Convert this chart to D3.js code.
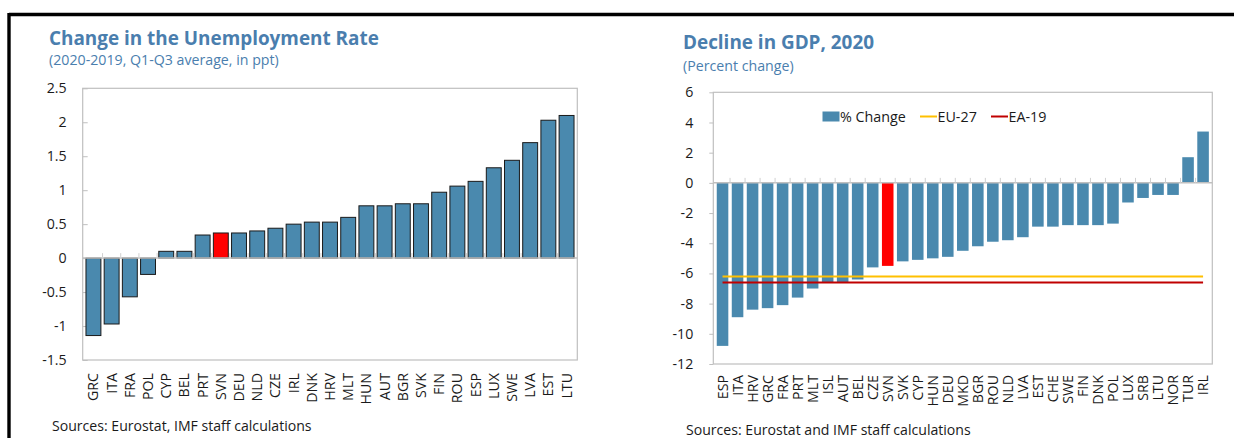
<!DOCTYPE html>
<html>
<head>
<meta charset="utf-8">
<script src="https://cdn.jsdelivr.net/npm/d3@7"></script>
<style>
  body { margin: 0; background: #fff; }
  svg { display: block; font-family: "Open Sans", sans-serif; }
</style>
</head>
<body>
<svg id="canvas" width="1234" height="438"></svg>
<script>
// left panel: change in unemployment rate
var unempCountries = ['GRC','ITA','FRA','POL','CYP','BEL','PRT','SVN','DEU','NLD','CZE','IRL','DNK','HRV',
                      'MLT','HUN','AUT','BGR','SVK','FIN','ROU','ESP','LUX','SWE','LVA','EST','LTU'];
var unempValues = [-1.14,-0.97,-0.57,-0.24,0.10,0.10,0.34,0.37,0.37,0.40,0.44,0.50,0.53,0.53,
                   0.60,0.77,0.77,0.80,0.80,0.97,1.06,1.13,1.33,1.44,1.70,2.03,2.10];
var unempTicks = [2.5,2,1.5,1,0.5,0,-0.5,-1,-1.5];

// right panel: GDP decline
var gdpCountries = ['ESP','ITA','HRV','GRC','FRA','PRT','MLT','ISL','AUT','BEL','CZE','SVN','SVK','CYP',
                    'HUN','DEU','MKD','BGR','ROU','NLD','LVA','EST','CHE','SWE','FIN','DNK','POL','LUX',
                    'SRB','LTU','NOR','TUR','IRL'];
var gdpValues = [-10.8,-8.9,-8.4,-8.3,-8.1,-7.6,-7.0,-6.6,-6.6,-6.4,-5.6,-5.5,-5.2,-5.1,
                 -5.0,-4.9,-4.5,-4.2,-3.9,-3.8,-3.6,-2.9,-2.9,-2.8,-2.8,-2.8,-2.7,-1.3,
                 -1.0,-0.8,-0.8,1.7,3.4];
var gdpTicks = [6,4,2,0,-2,-4,-6,-8,-10,-12];
var eu27 = -6.2;
var ea19 = -6.6;
var legendNames = ['% Change','EU-27','EA-19'];

var highlight = 'SVN';
var barColor = '#4a89ae';
var titleColor = '#4a7eae';

var svg = d3.select('#canvas');

// frame lines
svg.append('line').attr('x1', 9).attr('x2', 1234).attr('y1', 14.5).attr('y2', 14.5)
  .attr('stroke', '#000').attr('stroke-width', 3.3);
svg.append('line').attr('x1', 9).attr('x2', 9).attr('y1', 13).attr('y2', 438)
  .attr('stroke', '#000').attr('stroke-width', 3.4);

function drawPanel(opt) {
  var g = svg.append('g');
  var x = d3.scaleBand().domain(opt.cats).range([opt.left, opt.right]).padding(opt.pad);
  var y = d3.scaleLinear().domain(opt.domain).range([opt.bottom, opt.top]);

  g.append('text').attr('x', opt.titleX).attr('y', opt.titleY)
    .attr('fill', titleColor).attr('font-size', 18.9).attr('font-weight', 700)
    .text(opt.title);
  g.append('text').attr('x', opt.titleX).attr('y', opt.subY)
    .attr('fill', titleColor).attr('font-size', 14.2).text(opt.subtitle);

  // plot border
  g.append('rect').attr('x', opt.left).attr('y', opt.top)
    .attr('width', opt.right - opt.left).attr('height', opt.bottom - opt.top)
    .attr('fill', 'none').attr('stroke', '#bfbfbf').attr('stroke-width', 1.2);

  // y axis
  var ya = g.append('g').attr('transform', 'translate(' + opt.left + ',0)')
    .call(d3.axisLeft(y).tickValues(opt.ticks).tickSize(opt.yTickSize).tickPadding(16)
      .tickFormat(d => String(d)));
  ya.select('.domain').remove();
  ya.selectAll('.tick line').attr('stroke', '#bfbfbf');
  ya.selectAll('text').attr('font-size', 14.2).attr('fill', '#1a1a1a')
    .attr('font-family', '"Open Sans", sans-serif');

  // bars
  g.selectAll('.bar').data(opt.cats).join('rect')
    .attr('class', 'bar')
    .attr('x', d => x(d))
    .attr('width', x.bandwidth())
    .attr('y', (d, i) => y(Math.max(0, opt.vals[i])))
    .attr('height', (d, i) => Math.abs(y(opt.vals[i]) - y(0)))
    .attr('fill', d => d == highlight ? '#ff0000' : barColor)
    .attr('stroke', opt.barStroke)
    .attr('stroke-width', opt.barStroke == 'none' ? 0 : 1);

  // zero line with boundary ticks
  var y0 = y(0);
  g.append('line').attr('x1', opt.left).attr('x2', opt.right).attr('y1', y0).attr('y2', y0)
    .attr('stroke', '#bfbfbf').attr('stroke-width', 1.5);
  g.selectAll('.ztick').data(opt.cats.slice(1)).join('line')
    .attr('class', 'ztick')
    .attr('x1', d => x(d) - x.step() * x.paddingInner() / 2)
    .attr('x2', d => x(d) - x.step() * x.paddingInner() / 2)
    .attr('y1', y0).attr('y2', y0 - 5)
    .attr('stroke', '#d0d0d0').attr('stroke-width', 1);

  // x labels
  g.selectAll('.xl').data(opt.cats).join('text')
    .attr('class', 'xl')
    .attr('transform', d => 'translate(' + (x(d) + x.bandwidth() / 2 + 5) + ',' + opt.labelY + ') rotate(-90)')
    .attr('text-anchor', 'end')
    .attr('font-size', 14.2).attr('fill', '#1a1a1a')
    .text(d => d);

  g.append('text').attr('x', opt.srcX).attr('y', opt.srcY)
    .attr('font-size', 14.1).attr('fill', '#1a1a1a').text(opt.source);

  return {x: x, y: y, g: g};
}

drawPanel({
  cats: unempCountries, vals: unempValues, ticks: unempTicks, domain: [-1.5, 2.5],
  left: 82.7, right: 577.3, top: 88.3, bottom: 360, pad: 0.18,
  yTickSize: -5, barStroke: '#1a1a1a',
  title: 'Change in the Unemployment Rate', subtitle: '(2020-2019, Q1-Q3 average, in ppt)',
  titleX: 49, titleY: 44.5, subY: 65, labelY: 373,
  source: 'Sources: Eurostat, IMF staff calculations', srcX: 52, srcY: 431
});

var right = drawPanel({
  cats: gdpCountries, vals: gdpValues, ticks: gdpTicks, domain: [-12, 6],
  left: 713.3, right: 1212.3, top: 92.3, bottom: 364, pad: 0.23,
  yTickSize: 4, barStroke: 'none',
  title: 'Decline in GDP, 2020', subtitle: '(Percent change)',
  titleX: 683, titleY: 49, subY: 71, labelY: 375,
  source: 'Sources: Eurostat and IMF staff calculations', srcX: 686, srcY: 434.5
});

// EU-27 and EA-19 reference lines, centre of first band to centre of last band
var rx = right.x, ry = right.y;
var lx1 = rx(gdpCountries[0]) + rx.bandwidth() / 2;
var lx2 = rx(gdpCountries[gdpCountries.length - 1]) + rx.bandwidth() / 2;
[[eu27, '#ffc000'], [ea19, '#c00000']].forEach(function (r) {
  right.g.append('line').attr('x1', lx1).attr('x2', lx2)
    .attr('y1', ry(r[0])).attr('y2', ry(r[0]))
    .attr('stroke', r[1]).attr('stroke-width', 2);
});

// legend
var leg = right.g.append('g').attr('font-size', 14.3).attr('fill', '#1a1a1a');
leg.append('rect').attr('x', 822.5).attr('y', 111.5).attr('width', 17).attr('height', 10).attr('fill', barColor);
leg.append('text').attr('x', 840).attr('y', 121.5).text(legendNames[0]);
leg.append('line').attr('x1', 920).attr('x2', 937).attr('y1', 116.5).attr('y2', 116.5)
  .attr('stroke', '#ffc000').attr('stroke-width', 2);
leg.append('text').attr('x', 937.5).attr('y', 121.5).text(legendNames[1]);
leg.append('line').attr('x1', 991).attr('x2', 1008).attr('y1', 116.5).attr('y2', 116.5)
  .attr('stroke', '#c00000').attr('stroke-width', 2);
leg.append('text').attr('x', 1008.5).attr('y', 121.5).text(legendNames[2]);
</script>
</body>
</html>
